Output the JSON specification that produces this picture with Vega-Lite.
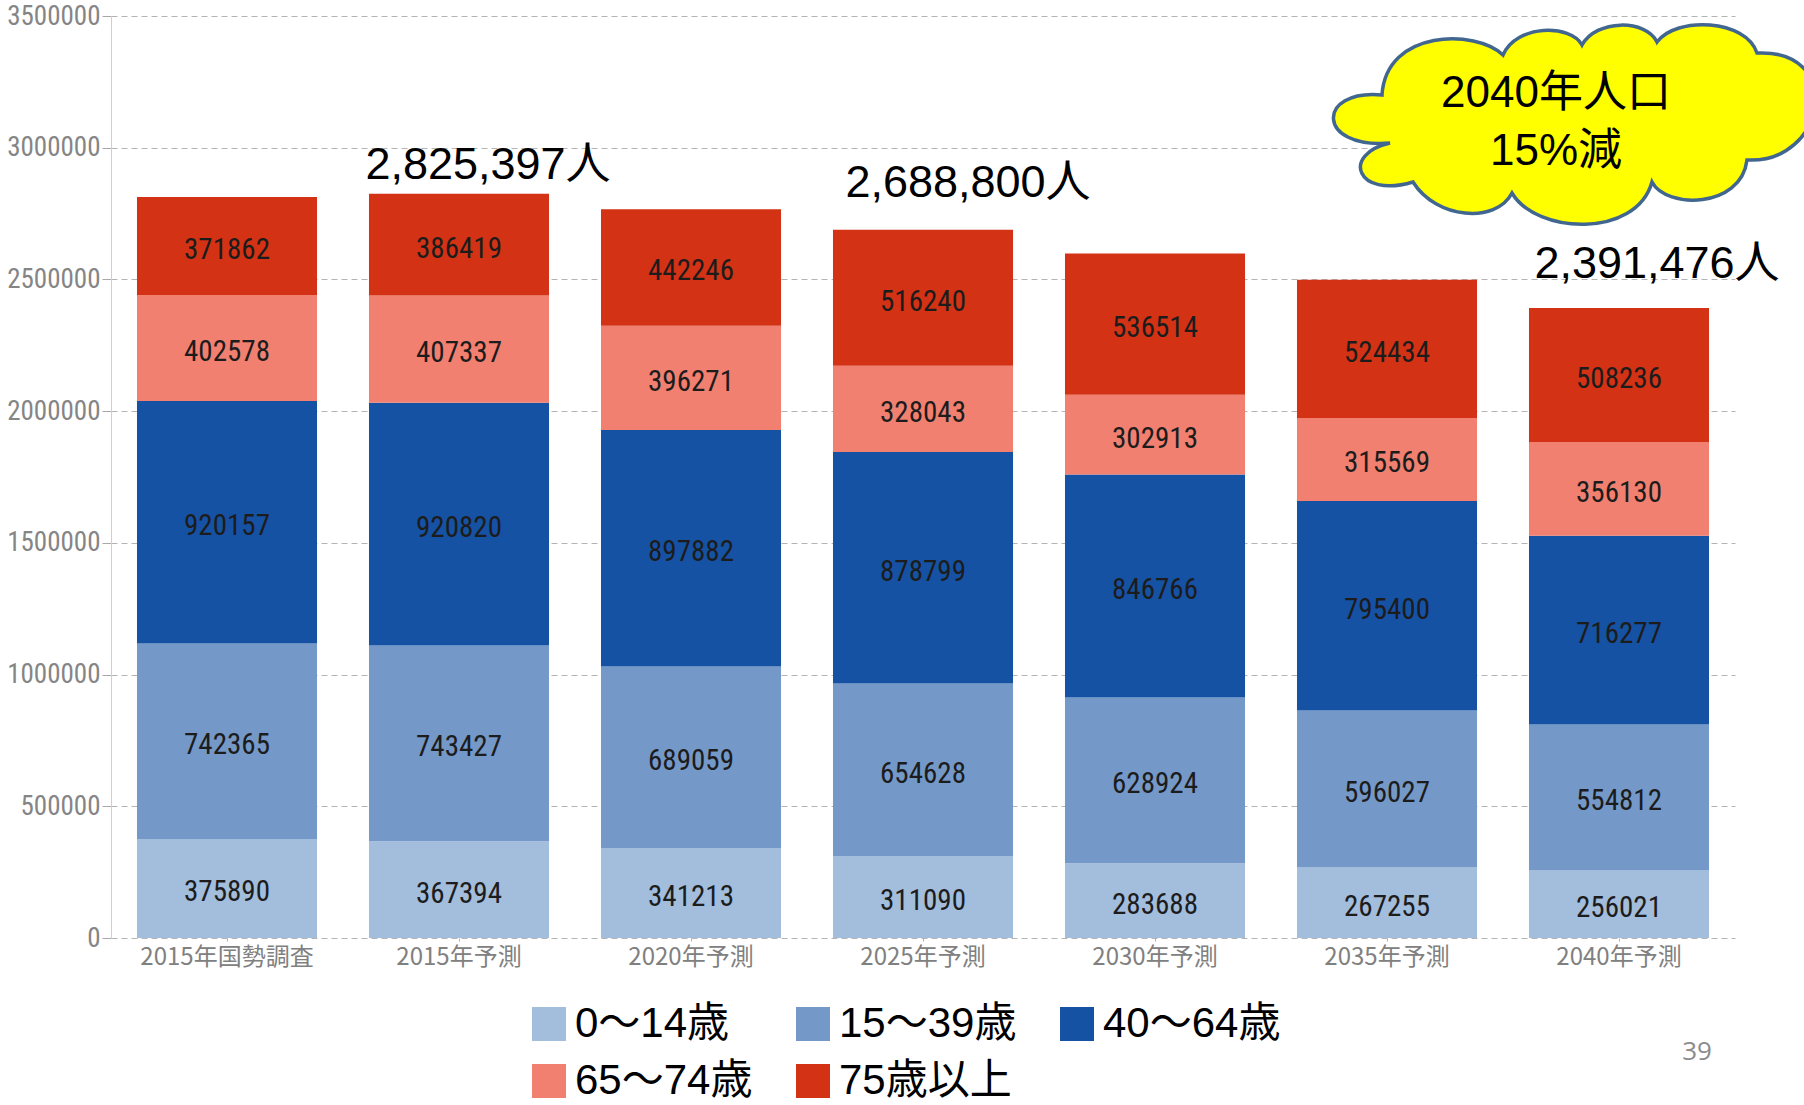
{
  "$schema": "https://vega.github.io/schema/vega-lite/v6.json",
  "width": 1624,
  "height": 922,
  "autosize": {"type": "none"},
  "padding": {"left": 111, "top": 16, "right": 69, "bottom": 167},
  "background": "white",
  "config": {"view": {"stroke": null}},
  "datasets": {
    "pop": [
      {"year": "2015年国勢調査", "age": "0～14歳", "ord": 1, "value": 375890},
      {"year": "2015年国勢調査", "age": "15～39歳", "ord": 2, "value": 742365},
      {"year": "2015年国勢調査", "age": "40～64歳", "ord": 3, "value": 920157},
      {"year": "2015年国勢調査", "age": "65～74歳", "ord": 4, "value": 402578},
      {"year": "2015年国勢調査", "age": "75歳以上", "ord": 5, "value": 371862},
      {"year": "2015年予測", "age": "0～14歳", "ord": 1, "value": 367394},
      {"year": "2015年予測", "age": "15～39歳", "ord": 2, "value": 743427},
      {"year": "2015年予測", "age": "40～64歳", "ord": 3, "value": 920820},
      {"year": "2015年予測", "age": "65～74歳", "ord": 4, "value": 407337},
      {"year": "2015年予測", "age": "75歳以上", "ord": 5, "value": 386419},
      {"year": "2020年予測", "age": "0～14歳", "ord": 1, "value": 341213},
      {"year": "2020年予測", "age": "15～39歳", "ord": 2, "value": 689059},
      {"year": "2020年予測", "age": "40～64歳", "ord": 3, "value": 897882},
      {"year": "2020年予測", "age": "65～74歳", "ord": 4, "value": 396271},
      {"year": "2020年予測", "age": "75歳以上", "ord": 5, "value": 442246},
      {"year": "2025年予測", "age": "0～14歳", "ord": 1, "value": 311090},
      {"year": "2025年予測", "age": "15～39歳", "ord": 2, "value": 654628},
      {"year": "2025年予測", "age": "40～64歳", "ord": 3, "value": 878799},
      {"year": "2025年予測", "age": "65～74歳", "ord": 4, "value": 328043},
      {"year": "2025年予測", "age": "75歳以上", "ord": 5, "value": 516240},
      {"year": "2030年予測", "age": "0～14歳", "ord": 1, "value": 283688},
      {"year": "2030年予測", "age": "15～39歳", "ord": 2, "value": 628924},
      {"year": "2030年予測", "age": "40～64歳", "ord": 3, "value": 846766},
      {"year": "2030年予測", "age": "65～74歳", "ord": 4, "value": 302913},
      {"year": "2030年予測", "age": "75歳以上", "ord": 5, "value": 536514},
      {"year": "2035年予測", "age": "0～14歳", "ord": 1, "value": 267255},
      {"year": "2035年予測", "age": "15～39歳", "ord": 2, "value": 596027},
      {"year": "2035年予測", "age": "40～64歳", "ord": 3, "value": 795400},
      {"year": "2035年予測", "age": "65～74歳", "ord": 4, "value": 315569},
      {"year": "2035年予測", "age": "75歳以上", "ord": 5, "value": 524434},
      {"year": "2040年予測", "age": "0～14歳", "ord": 1, "value": 256021},
      {"year": "2040年予測", "age": "15～39歳", "ord": 2, "value": 554812},
      {"year": "2040年予測", "age": "40～64歳", "ord": 3, "value": 716277},
      {"year": "2040年予測", "age": "65～74歳", "ord": 4, "value": 356130},
      {"year": "2040年予測", "age": "75歳以上", "ord": 5, "value": 508236}
    ]
  },
  "layer": [
    {
      "data": {"name": "pop"},
      "mark": {"type": "bar"},
      "encoding": {
        "x": {
          "field": "year", "type": "nominal", "sort": null, "title": null,
          "scale": {
            "domain": ["2015年国勢調査", "2015年予測", "2020年予測", "2025年予測", "2030年予測", "2035年予測", "2040年予測"],
            "paddingInner": 0.224, "paddingOuter": 0.112
          },
          "axis": {
            "domain": false, "labelAngle": 0, "labelFont": "Noto Sans CJK JP", "labelFontSize": 24,
            "labelColor": "#808080", "tickColor": "#b0b0b0", "tickSize": 3, "labelPadding": 4, "grid": false
          }
        },
        "y": {
          "field": "value", "type": "quantitative", "stack": "zero", "title": null,
          "scale": {"domain": [0, 3500000], "nice": false},
          "axis": {
            "values": [0, 500000, 1000000, 1500000, 2000000, 2500000, 3000000, 3500000],
            "format": "d", "labelFont": "Liberation Sans Narrow, Roboto Condensed, DejaVu Sans Condensed, Liberation Sans",
            "labelFontSize": 27, "labelColor": "#858585", "tickColor": "#a8a8a8", "tickSize": 9, "labelPadding": 2,
            "domainColor": "#d0d0d0", "grid": true, "gridColor": "#b4b4b4", "gridDash": [6, 4], "gridWidth": 1
          }
        },
        "color": {
          "field": "age", "type": "nominal",
          "scale": {
            "domain": ["0～14歳", "15～39歳", "40～64歳", "65～74歳", "75歳以上"],
            "range": ["#a3bddc", "#7499c9", "#1652a4", "#f18070", "#d43215"]
          },
          "legend": {
            "title": null, "orient": "none", "legendX": 417, "legendY": 987, "direction": "horizontal",
            "columns": 3, "columnPadding": 39, "rowPadding": 15,
            "symbolType": "square", "symbolSize": 1156, "symbolStrokeWidth": 0,
            "labelFontSize": 42, "labelFont": "Liberation Sans, Noto Sans CJK JP", "labelColor": "#000000",
            "labelOffset": 5, "labelLimit": 400, "padding": 0
          }
        },
        "order": {"field": "ord", "type": "quantitative"}
      }
    },
    {
      "data": {"name": "pop"},
      "mark": {"type": "text", "font": "Liberation Sans Narrow, Roboto Condensed, DejaVu Sans Condensed, Liberation Sans", "fontSize": 29, "color": "#1c1c1c", "baseline": "middle", "dy": 4},
      "encoding": {
        "x": {"field": "year", "type": "nominal", "sort": null, "title": null},
        "y": {"field": "value", "type": "quantitative", "stack": "zero", "bandPosition": 0.5, "title": null},
        "detail": {"field": "age"},
        "order": {"field": "ord", "type": "quantitative"},
        "text": {"field": "value", "type": "quantitative", "format": "d"}
      }
    },
    {
      "data": {"values": [{"year": "2015年予測", "total": 2825397, "label": "2,825,397人"}]},
      "mark": {"type": "text", "font": "Liberation Sans, Noto Sans CJK JP", "fontSize": 45, "color": "#000000", "align": "center", "baseline": "alphabetic", "dx": 29, "dy": -15},
      "encoding": {
        "x": {"field": "year", "type": "nominal", "sort": null, "title": null},
        "y": {"field": "total", "type": "quantitative", "title": null},
        "text": {"field": "label"}
      }
    },
    {
      "data": {"values": [{"year": "2025年予測", "total": 2688800, "label": "2,688,800人"}]},
      "mark": {"type": "text", "font": "Liberation Sans, Noto Sans CJK JP", "fontSize": 45, "color": "#000000", "align": "center", "baseline": "alphabetic", "dx": 45, "dy": -33},
      "encoding": {
        "x": {"field": "year", "type": "nominal", "sort": null, "title": null},
        "y": {"field": "total", "type": "quantitative", "title": null},
        "text": {"field": "label"}
      }
    },
    {
      "data": {"values": [{"year": "2040年予測", "total": 2391476, "label": "2,391,476人"}]},
      "mark": {"type": "text", "font": "Liberation Sans, Noto Sans CJK JP", "fontSize": 45, "color": "#000000", "align": "center", "baseline": "alphabetic", "dx": 38, "dy": -30},
      "encoding": {
        "x": {"field": "year", "type": "nominal", "sort": null, "title": null},
        "y": {"field": "total", "type": "quantitative", "title": null},
        "text": {"field": "label"}
      }
    },
    {
      "data": {"values": [{"year": "2040年予測", "anchor": 3090000}]},
      "mark": {
        "type": "point", "filled": true, "opacity": 1, "size": 4,
        "fill": "#ffff00", "stroke": "#41668f", "strokeWidth": 3.5,
        "shape": "M -237 -29 C -303 -35 -303 25 -229 19 C -278 30 -263 75 -206 58 C -183 95 -123 100 -107 69 C -83 110 17 115 33 58 C 47 85 122 85 128 36 C 207 40 227 -75 138 -71 C 127 -105 57 -108 38 -82 C 27 -105 -23 -105 -37 -79 C -48 -100 -103 -100 -116 -69 C -143 -95 -233 -95 -237 -29 Z"
      },
      "encoding": {
        "x": {"field": "year", "type": "nominal", "sort": null, "title": null},
        "y": {"field": "anchor", "type": "quantitative", "title": null}
      }
    },
    {
      "data": {"values": [{"year": "2040年予測", "anchor": 3090000, "note": ["2040年人口", "15%減"]}]},
      "mark": {"type": "text", "font": "Liberation Sans, Noto Sans CJK JP", "fontSize": 44, "color": "#000000", "align": "center", "baseline": "middle", "lineHeight": 58, "dx": -63, "dy": -30},
      "encoding": {
        "x": {"field": "year", "type": "nominal", "sort": null, "title": null},
        "y": {"field": "anchor", "type": "quantitative", "title": null},
        "text": {"field": "note"}
      }
    },
    {
      "data": {"values": [{"year": "2040年予測", "base": 0, "page": "39"}]},
      "mark": {"type": "text", "font": "Open Sans", "fontSize": 26, "color": "#8c8c8c", "align": "center", "baseline": "middle", "dx": 78, "dy": 114},
      "encoding": {
        "x": {"field": "year", "type": "nominal", "sort": null, "title": null},
        "y": {"field": "base", "type": "quantitative", "title": null},
        "text": {"field": "page"}
      }
    }
  ]
}
